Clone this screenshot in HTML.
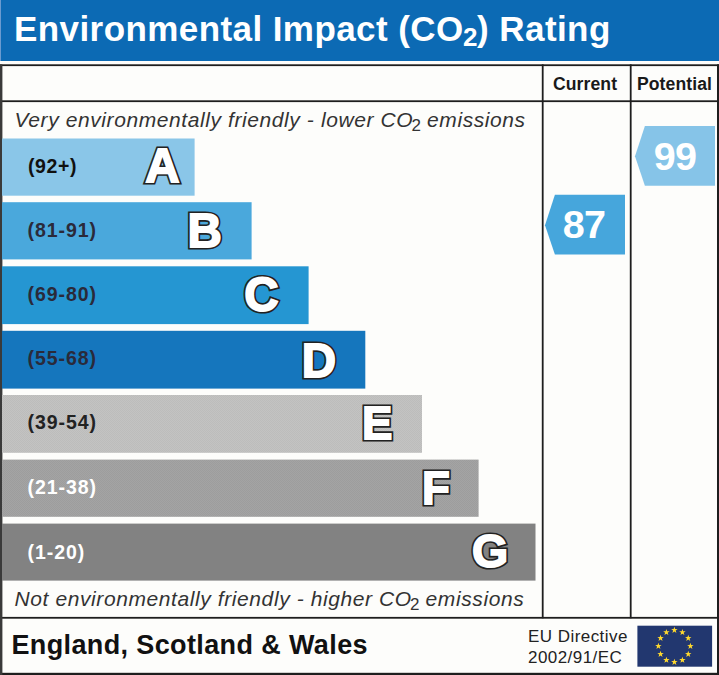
<!DOCTYPE html>
<html><head><meta charset="utf-8">
<style>
html,body{margin:0;padding:0;}
body{width:719px;height:675px;position:relative;overflow:hidden;background:#fdfdfb;font-family:"Liberation Sans",sans-serif;}
.abs{position:absolute;}
.ln{position:absolute;background:#232323;}
#hdr{left:0;top:0;width:719px;height:61px;background:#0c6ab4;border-left:1px solid #6a9bd0;box-sizing:border-box;}
#title{left:14px;top:9px;color:#fff;font-weight:bold;font-size:35px;line-height:40px;white-space:nowrap;letter-spacing:0.42px;}
#title sub{font-size:26px;vertical-align:baseline;position:relative;top:4.5px;line-height:0;letter-spacing:0;margin:0 -0.5px;}
.rng{position:absolute;left:27.5px;font-weight:bold;font-size:19.5px;line-height:20px;white-space:nowrap;letter-spacing:0.95px;}
.it{position:absolute;left:14px;font-style:italic;font-size:21px;line-height:24px;color:#333;white-space:nowrap;letter-spacing:0.59px;}
.it sub{font-size:17px;font-style:normal;vertical-align:baseline;position:relative;top:4px;line-height:0;letter-spacing:0;margin:0 -0.4px 0 -1.6px;}
.colh{position:absolute;font-weight:bold;font-size:17.6px;line-height:20px;color:#1a1a1a;text-align:center;letter-spacing:0.1px;}
.num{position:absolute;color:#fff;font-weight:bold;font-size:39.5px;line-height:40px;text-align:center;letter-spacing:-0.6px;}
svg text{font-family:"Liberation Sans",sans-serif;font-weight:bold;}
.eu{position:absolute;left:528px;font-size:17px;line-height:21px;color:#222;white-space:nowrap;letter-spacing:0.45px;}
</style></head><body>
<div class="abs" id="hdr"></div>
<div class="abs" id="title">Environmental Impact (CO<sub>2</sub>) Rating</div>

<!-- borders -->
<svg class="abs" style="left:0;top:0;" width="719" height="675" viewBox="0 0 719 675" fill="#1e1e1e">
<rect x="0" y="64.3" width="719" height="1.8"/>
<rect x="0" y="100.3" width="719" height="1.8"/>
<rect x="0" y="616.9" width="719" height="1.8"/>
<rect x="0" y="672.8" width="719" height="2.2"/>
<rect x="0" y="64.3" width="2.4" height="611" fill="#3a3a3a"/>
<rect x="717" y="64.3" width="2" height="611"/>
<rect x="541.8" y="64.3" width="1.8" height="554"/>
<rect x="629.8" y="64.3" width="1.8" height="554"/>
</svg>

<div class="colh" style="left:542px;width:86px;top:74px;">Current</div>
<div class="colh" style="left:632px;width:85px;top:74px;">Potential</div>

<div class="it" style="top:107.5px;left:14.5px;">Very environmentally friendly - lower CO<sub>2</sub> emissions</div>
<div class="it" style="top:587px;left:14.6px;">Not environmentally friendly - higher CO<sub>2</sub> emissions</div>

<!-- bars, letters, arrows -->
<svg class="abs" style="left:0;top:0;" width="719" height="675" viewBox="0 0 719 675">
<defs>
<pattern id="dE" width="2" height="2" patternUnits="userSpaceOnUse"><rect width="2" height="2" fill="#c3c3c2"/><rect width="1" height="1" fill="#bcbcbb"/><rect x="1" y="1" width="1" height="1" fill="#bcbcbb"/></pattern>
<pattern id="dF" width="2" height="2" patternUnits="userSpaceOnUse"><rect width="2" height="2" fill="#a4a4a4"/><rect width="1" height="1" fill="#9d9d9d"/><rect x="1" y="1" width="1" height="1" fill="#9d9d9d"/></pattern>
</defs>
<rect x="2" y="138.5" width="192.6" height="57.2" fill="#8ac6e8"/>
<rect x="2" y="202.2" width="249.6" height="57.2" fill="#4aa8dc"/>
<rect x="2" y="266.3" width="306.6" height="57.8" fill="#2596d2"/>
<rect x="2" y="330.8" width="363.3" height="57.8" fill="#1576bd"/>
<rect x="2" y="395" width="420" height="57.8" fill="url(#dE)"/>
<rect x="2" y="459.6" width="476.6" height="57.2" fill="url(#dF)"/>
<rect x="2" y="523.6" width="533.5" height="57" fill="#828282"/>

<polygon points="635,156.2 644.9,126.1 715,126.1 715,185.8 644.9,185.8" fill="#86c4e8"/>
<polygon points="545,225.3 554.9,194.8 625,194.8 625,254.6 554.9,254.6" fill="#46a6dc"/>

<g text-anchor="middle" stroke-linejoin="miter" stroke-miterlimit="3">
 <g fill="#222" stroke="#222" stroke-width="5.2"><text x="162.5" y="181.8" font-size="47.5">A</text><text x="204.7" y="246.7" font-size="47.5">B</text><text x="261.4" y="311.3" font-size="47.5">C</text><text x="318.8" y="376.5" font-size="47.5">D</text><text x="377.1" y="438.7" font-size="45.5">E</text><text x="436.0" y="503.9" font-size="45.5">F</text><text x="490" y="566.8" font-size="46.5">G</text></g>
 <g fill="#fff" stroke="#fff" stroke-width="1.8"><text x="162.5" y="181.8" font-size="47.5">A</text><text x="204.7" y="246.7" font-size="47.5">B</text><text x="261.4" y="311.3" font-size="47.5">C</text><text x="318.8" y="376.5" font-size="47.5">D</text><text x="377.1" y="438.7" font-size="45.5">E</text><text x="436.0" y="503.9" font-size="45.5">F</text><text x="490" y="566.8" font-size="46.5">G</text></g>
</g>
</svg>

<div class="rng" style="top:156px;color:#111;left:28px;letter-spacing:0.6px;">(92+)</div>
<div class="rng" style="top:220px;color:#2a2a3a;">(81-91)</div>
<div class="rng" style="top:284px;color:#2a2a3a;">(69-80)</div>
<div class="rng" style="top:348px;color:#2a2a3a;">(55-68)</div>
<div class="rng" style="top:412px;color:#222;">(39-54)</div>
<div class="rng" style="top:477px;color:#fff;">(21-38)</div>
<div class="rng" style="top:542px;color:#fff;">(1-20)</div>

<div class="num" style="left:639px;width:72px;top:135.5px;">99</div>
<div class="num" style="left:548px;width:72px;top:204.4px;">87</div>

<div class="abs" style="left:11.4px;top:629.5px;font-weight:bold;font-size:27px;line-height:30px;color:#111;white-space:nowrap;letter-spacing:0.38px;">England, Scotland &amp; Wales</div>
<div class="eu" style="top:626px;">EU Directive</div>
<div class="eu" style="top:647px;">2002/91/EC</div>

<svg class="abs" style="left:637px;top:625px;" width="76" height="43" viewBox="0 0 76 43">
<rect x="0.4" y="0.7" width="74.7" height="41" fill="#22376f"/>
<g fill="#ffd92e"><polygon points="37.40,1.80 38.19,4.11 40.63,4.15 38.68,5.62 39.40,7.95 37.40,6.55 35.40,7.95 36.12,5.62 34.17,4.15 36.61,4.11"/><polygon points="45.40,3.94 46.19,6.25 48.63,6.29 46.68,7.76 47.40,10.09 45.40,8.69 43.40,10.09 44.12,7.76 42.17,6.29 44.61,6.25"/><polygon points="51.26,9.80 52.05,12.11 54.49,12.15 52.54,13.62 53.25,15.95 51.26,14.55 49.26,15.95 49.97,13.62 48.02,12.15 50.46,12.11"/><polygon points="53.40,17.80 54.19,20.11 56.63,20.15 54.68,21.62 55.40,23.95 53.40,22.55 51.40,23.95 52.12,21.62 50.17,20.15 52.61,20.11"/><polygon points="51.26,25.80 52.05,28.11 54.49,28.15 52.54,29.62 53.25,31.95 51.26,30.55 49.26,31.95 49.97,29.62 48.02,28.15 50.46,28.11"/><polygon points="45.40,31.66 46.19,33.96 48.63,34.01 46.68,35.47 47.40,37.81 45.40,36.41 43.40,37.81 44.12,35.47 42.17,34.01 44.61,33.96"/><polygon points="37.40,33.80 38.19,36.11 40.63,36.15 38.68,37.62 39.40,39.95 37.40,38.55 35.40,39.95 36.12,37.62 34.17,36.15 36.61,36.11"/><polygon points="29.40,31.66 30.19,33.96 32.63,34.01 30.68,35.47 31.40,37.81 29.40,36.41 27.40,37.81 28.12,35.47 26.17,34.01 28.61,33.96"/><polygon points="23.54,25.80 24.34,28.11 26.78,28.15 24.83,29.62 25.54,31.95 23.54,30.55 21.55,31.95 22.26,29.62 20.31,28.15 22.75,28.11"/><polygon points="21.40,17.80 22.19,20.11 24.63,20.15 22.68,21.62 23.40,23.95 21.40,22.55 19.40,23.95 20.12,21.62 18.17,20.15 20.61,20.11"/><polygon points="23.54,9.80 24.34,12.11 26.78,12.15 24.83,13.62 25.54,15.95 23.54,14.55 21.55,15.95 22.26,13.62 20.31,12.15 22.75,12.11"/><polygon points="29.40,3.94 30.19,6.25 32.63,6.29 30.68,7.76 31.40,10.09 29.40,8.69 27.40,10.09 28.12,7.76 26.17,6.29 28.61,6.25"/></g>
</svg>
</body></html>
